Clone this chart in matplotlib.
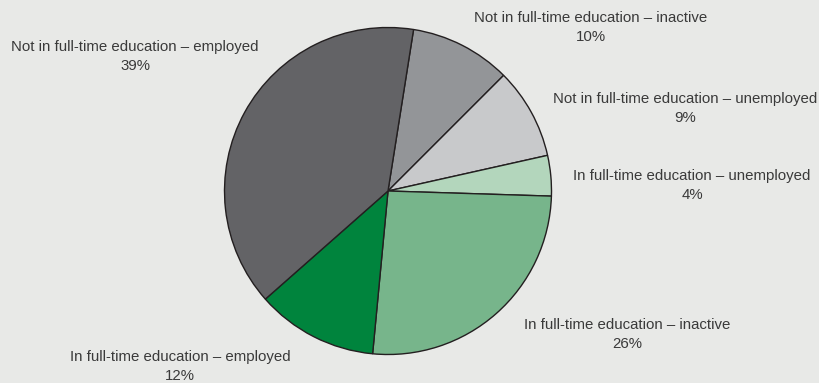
import matplotlib.pyplot as plt

# Datos del gráfico (orden de los sectores, en sentido horario desde arriba)
categorias = [
    "Not in full-time education – inactive",
    "Not in full-time education – unemployed",
    "In full-time education – unemployed",
    "In full-time education – inactive",
    "In full-time education – employed",
    "Not in full-time education – employed",
]
porcentajes = [10, 9, 4, 26, 12, 39]
colores = ["#939598", "#c8c9cb", "#b3d6bc", "#77b58b", "#00843d", "#636366"]

# Posiciones de las etiquetas (en píxeles, origen arriba a la izquierda)
pos_etiquetas = [(591, 18), (685, 99), (692, 176), (627, 325), (180, 357), (135, 47)]

W, H = 819, 383
fondo = "#e8e9e7"

fig = plt.figure(figsize=(W / 100, H / 100), dpi=100)
fig.patch.set_facecolor(fondo)
ax = fig.add_axes([0, 0, 1, 1])
ax.set_facecolor(fondo)

ax.pie(porcentajes, colors=colores, startangle=81, counterclock=False,
       center=(388, H - 191), radius=163.5,
       wedgeprops=dict(edgecolor="#231f20", linewidth=1.0))

for cat, pct, (x, y) in zip(categorias, porcentajes, pos_etiquetas):
    ax.text(x, H - y, cat, ha="center", va="center", fontsize=10.8,
            family="Liberation Sans", color="#3a3a3a")
    ax.text(x, H - y - 19, f"{pct}%", ha="center", va="center", fontsize=10.8,
            family="Liberation Sans", color="#3a3a3a")

ax.set_xlim(0, W)
ax.set_ylim(0, H)
ax.set_aspect("equal")
ax.axis("off")

fig.savefig("out.png", dpi=100, facecolor=fondo)
